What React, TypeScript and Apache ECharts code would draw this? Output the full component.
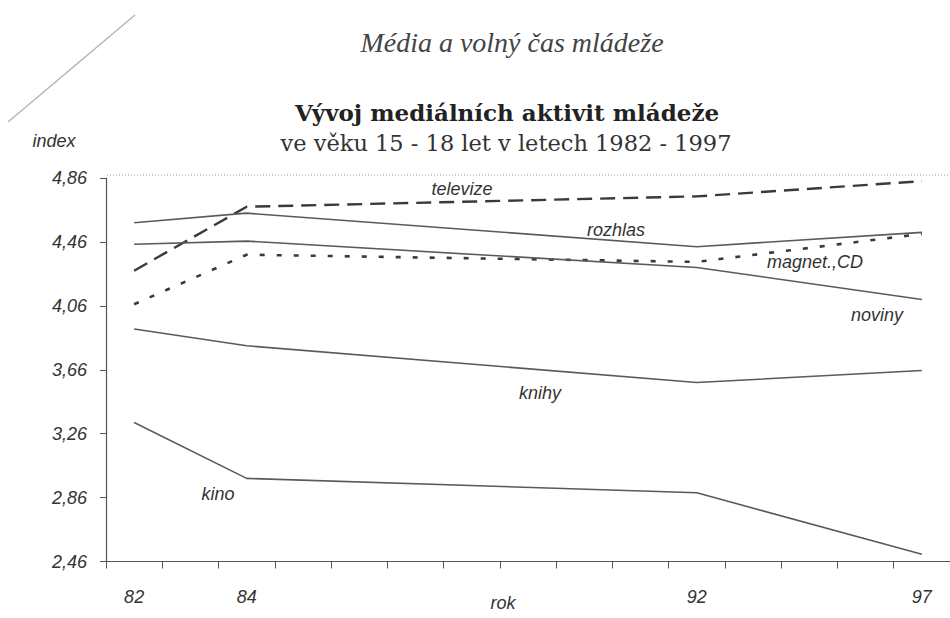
import React, { useEffect, useRef } from "react";
import * as echarts from "echarts";

// ---- data ----
const xCategories = ["82", "", "84", "", "", "", "", "", "", "", "92", "", "", "", "97"];
const years = ["82", "84", "92", "97"];
const televize = [4.28, 4.68, 4.745, 4.84];
const rozhlas = [4.58, 4.64, 4.43, 4.52];
const magnetCD = [4.07, 4.38, 4.335, 4.51];
const noviny = [4.445, 4.465, 4.3, 4.1];
const knihy = [3.915, 3.81, 3.58, 3.655];
const kino = [3.33, 2.98, 2.89, 2.505];
const yMin = 2.46;
const yMax = 4.86;
const yStep = 0.4;

const pairs = (vals: number[]) => years.map((y, i) => [y, vals[i]]);

const AXIS_FONT = "'Liberation Sans Narrow', 'Arial Narrow', 'Liberation Sans', Arial, sans-serif";

export default function App() {
  const ref = useRef<HTMLDivElement>(null);
  useEffect(() => {
    if (!ref.current) return;
    const chart = echarts.init(ref.current, null, { renderer: "svg" });
    const solid = (name: string, vals: number[]) => ({
      name,
      type: "line",
      data: pairs(vals),
      symbol: "none",
      lineStyle: { color: "#5a5a5a", width: 1.6 },
    });
    const labelText = (text: string, x: number, y: number) => ({
      type: "text",
      x,
      y,
      style: {
        text,
        fill: "#333",
        font: `italic 18px ${AXIS_FONT}`,
        textAlign: "center",
        textVerticalAlign: "middle",
      },
    });
    chart.setOption({
      animation: false,
      backgroundColor: "#fff",
      grid: { left: 106, top: 178, width: 850, height: 383.5, containLabel: false },
      xAxis: {
        type: "category",
        data: xCategories,
        boundaryGap: true,
        axisLine: { lineStyle: { color: "#555", width: 1.2 } },
        axisTick: { show: true, interval: 0, length: 7, lineStyle: { color: "#555" } },
        axisLabel: {
          interval: 0,
          margin: 26,
          color: "#333",
          fontStyle: "italic",
          fontSize: 18,
          fontFamily: AXIS_FONT,
        },
        splitLine: { show: false },
      },
      yAxis: {
        type: "value",
        min: yMin,
        max: yMax,
        interval: yStep,
        axisLine: { show: true, lineStyle: { color: "#555", width: 1.2 } },
        axisTick: { show: true, length: 6, lineStyle: { color: "#555" } },
        axisLabel: {
          margin: 19,
          color: "#333",
          fontStyle: "italic",
          fontSize: 18,
          fontFamily: AXIS_FONT,
          formatter: (v: number) => v.toFixed(2).replace(".", ","),
        },
        splitLine: { show: false },
      },
      series: [
        {
          name: "televize",
          type: "line",
          data: pairs(televize),
          symbol: "none",
          lineStyle: { color: "#3a3a3a", width: 2.4, type: [15, 8] },
        },
        solid("rozhlas", rozhlas),
        {
          name: "magnet.,CD",
          type: "line",
          data: pairs(magnetCD),
          symbol: "none",
          lineStyle: { color: "#3a3a3a", width: 2.6, type: [5, 12] },
        },
        solid("noviny", noviny),
        solid("knihy", knihy),
        solid("kino", kino),
      ],
      graphic: [
        {
          type: "line",
          shape: { x1: 8, y1: 122, x2: 135, y2: 15 },
          style: { stroke: "#b5b5b5", lineWidth: 1.5 },
        },
        {
          type: "line",
          shape: { x1: 107, y1: 175, x2: 950, y2: 175 },
          style: { stroke: "#9a9a9a", lineWidth: 1, lineDash: [1, 2] },
        },
        {
          type: "text",
          x: 512,
          y: 42,
          style: {
            text: "Média a volný čas mládeže",
            fill: "#444",
            font: "italic 28px 'Liberation Serif', 'Times New Roman', serif",
            textAlign: "center",
            textVerticalAlign: "middle",
          },
        },
        {
          type: "text",
          x: 507,
          y: 112,
          style: {
            text: "Vývoj mediálních aktivit mládeže",
            fill: "#222",
            font: "bold 23px 'DejaVu Serif', serif",
            textAlign: "center",
            textVerticalAlign: "middle",
          },
        },
        {
          type: "text",
          x: 506,
          y: 143,
          style: {
            text: "ve věku 15 - 18 let v letech 1982 - 1997",
            fill: "#333",
            font: "22.5px 'DejaVu Serif', serif",
            textAlign: "center",
            textVerticalAlign: "middle",
          },
        },
        labelText("index", 54, 141),
        labelText("rok", 503, 603),
        labelText("televize", 462, 189),
        labelText("rozhlas", 616, 230),
        labelText("magnet.,CD", 815, 262),
        labelText("noviny", 877, 315),
        labelText("knihy", 540, 393),
        labelText("kino", 218, 494),
      ],
    });
    return () => chart.dispose();
  }, []);
  return (
    <div
      ref={ref}
      style={{ position: "fixed", left: 0, top: 0, width: 950, height: 618, background: "#fff" }}
    />
  );
}
